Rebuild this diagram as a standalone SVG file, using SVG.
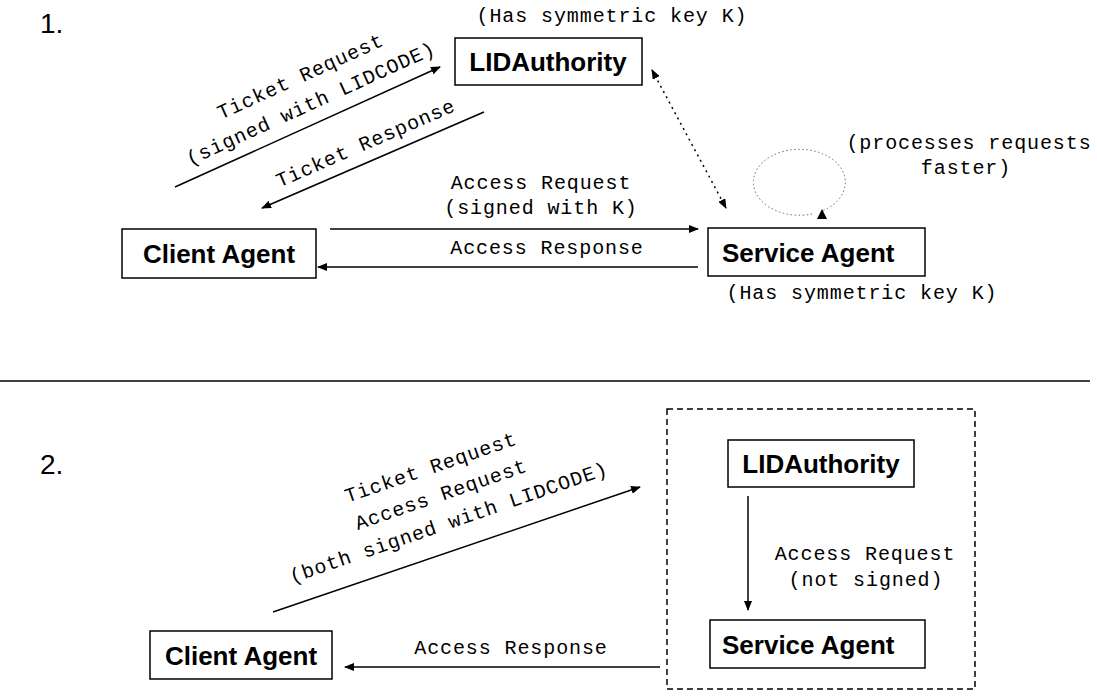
<svg xmlns="http://www.w3.org/2000/svg" width="1097" height="698" viewBox="0 0 1097 698">
<style>
.box{fill:#fff;stroke:#000;stroke-width:1.5}
.lbl{font-family:"Liberation Sans",Arial,sans-serif;font-weight:bold;font-size:26px;fill:#000}
.mono{font-family:"Liberation Mono","Courier New",monospace;font-size:20px;letter-spacing:0.9px;fill:#000}
.num{font-family:"Liberation Sans",Arial,sans-serif;font-size:28px;fill:#000}
.ln{stroke:#000;stroke-width:1.5;fill:none}
.dot{stroke:#000;stroke-width:1.5;fill:none;stroke-dasharray:2 4}
.dotc{stroke:#666;stroke-width:1;fill:none;stroke-dasharray:1.5 2.5}
</style>
<defs>
<marker id="ah" markerWidth="10" markerHeight="8" refX="9" refY="4" orient="auto" markerUnits="userSpaceOnUse">
<path d="M0,0 L10,4 L0,8 Z" fill="#000"/>
</marker>
<marker id="ahs" markerWidth="10" markerHeight="8" refX="1" refY="4" orient="auto" markerUnits="userSpaceOnUse">
<path d="M10,0 L0,4 L10,8 Z" fill="#000"/>
</marker>
</defs>
<rect width="1097" height="698" fill="#fff"/>
<text class="num" x="40" y="33">1.</text>
<text class="num" x="40" y="474">2.</text>
<line x1="0" y1="381" x2="1090" y2="381" stroke="#000" stroke-width="1.5"/>

<g id="connectors">
<line class="ln" x1="175" y1="187" x2="440" y2="67" marker-end="url(#ah)"/>
<line class="ln" x1="484" y1="112" x2="262" y2="208" marker-end="url(#ah)"/>
<line class="dot" x1="652" y1="70" x2="726" y2="208" marker-start="url(#ahs)" marker-end="url(#ah)"/>
<path class="dotc" d="M812,214 A46,33 0 1 1 822,211"/>
<path d="M817,219 L822,209 L827,219 Z" fill="#000"/>
<line class="ln" x1="330" y1="229" x2="698" y2="229" marker-end="url(#ah)"/>
<line class="ln" x1="698" y1="267" x2="318" y2="267" marker-end="url(#ah)"/>
<line class="ln" x1="273" y1="612" x2="640" y2="487" marker-end="url(#ah)"/>
<line class="ln" x1="748" y1="496" x2="748" y2="610" marker-end="url(#ah)"/>
<line class="ln" x1="660" y1="667" x2="345" y2="667" marker-end="url(#ah)"/>
</g>

<g id="labels">
<text class="mono" x="612" y="22" text-anchor="middle">(Has symmetric key K)</text>
<g transform="translate(306,127) rotate(-24.5)">
<text class="mono" x="16" y="-42" text-anchor="middle">Ticket Request</text>
<text class="mono" x="14" y="-13" text-anchor="middle">(signed with LIDCODE)</text>
</g>
<g transform="translate(373,160) rotate(-23.5)">
<text class="mono" x="0" y="-12" text-anchor="middle">Ticket Response</text>
</g>
<text class="mono" x="541" y="189" text-anchor="middle">Access Request</text>
<text class="mono" x="541" y="214" text-anchor="middle">(signed with K)</text>
<text class="mono" x="547" y="254" text-anchor="middle">Access Response</text>
<text class="mono" x="969" y="149" text-anchor="middle">(processes requests</text>
<text class="mono" x="966" y="174" text-anchor="middle">faster)</text>
<text class="mono" x="862" y="299" text-anchor="middle">(Has symmetric key K)</text>
<g transform="translate(456,550) rotate(-19)">
<text class="mono" x="3" y="-80" text-anchor="middle">Ticket Request</text>
<text class="mono" x="4" y="-51" text-anchor="middle">Access Request</text>
<text class="mono" x="2" y="-22" text-anchor="middle">(both signed with LIDCODE)</text>
</g>
<text class="mono" x="865" y="560" text-anchor="middle">Access Request</text>
<text class="mono" x="866" y="586" text-anchor="middle">(not signed)</text>
<text class="mono" x="511" y="654" text-anchor="middle">Access Response</text>
</g>

<rect x="667" y="409" width="308" height="280" fill="none" stroke="#000" stroke-width="1.5" stroke-dasharray="6 4"/>

<g id="lidauthority1">
<rect class="box" x="455" y="38" width="187" height="47"/>
<text class="lbl" x="548" y="71" text-anchor="middle">LIDAuthority</text>
</g>
<g id="client1">
<rect class="box" x="122" y="229" width="194" height="49"/>
<text class="lbl" x="219" y="263" text-anchor="middle">Client Agent</text>
</g>
<g id="service1">
<rect class="box" x="708" y="228" width="217" height="48"/>
<text class="lbl" x="722" y="262">Service Agent</text>
</g>
<g id="lidauthority2">
<rect class="box" x="728" y="440" width="186" height="47"/>
<text class="lbl" x="821" y="473" text-anchor="middle">LIDAuthority</text>
</g>
<g id="service2">
<rect class="box" x="710" y="620" width="215" height="48"/>
<text class="lbl" x="722" y="654">Service Agent</text>
</g>
<g id="client2">
<rect class="box" x="150" y="631" width="182" height="48"/>
<text class="lbl" x="241" y="665" text-anchor="middle">Client Agent</text>
</g>
</svg>
